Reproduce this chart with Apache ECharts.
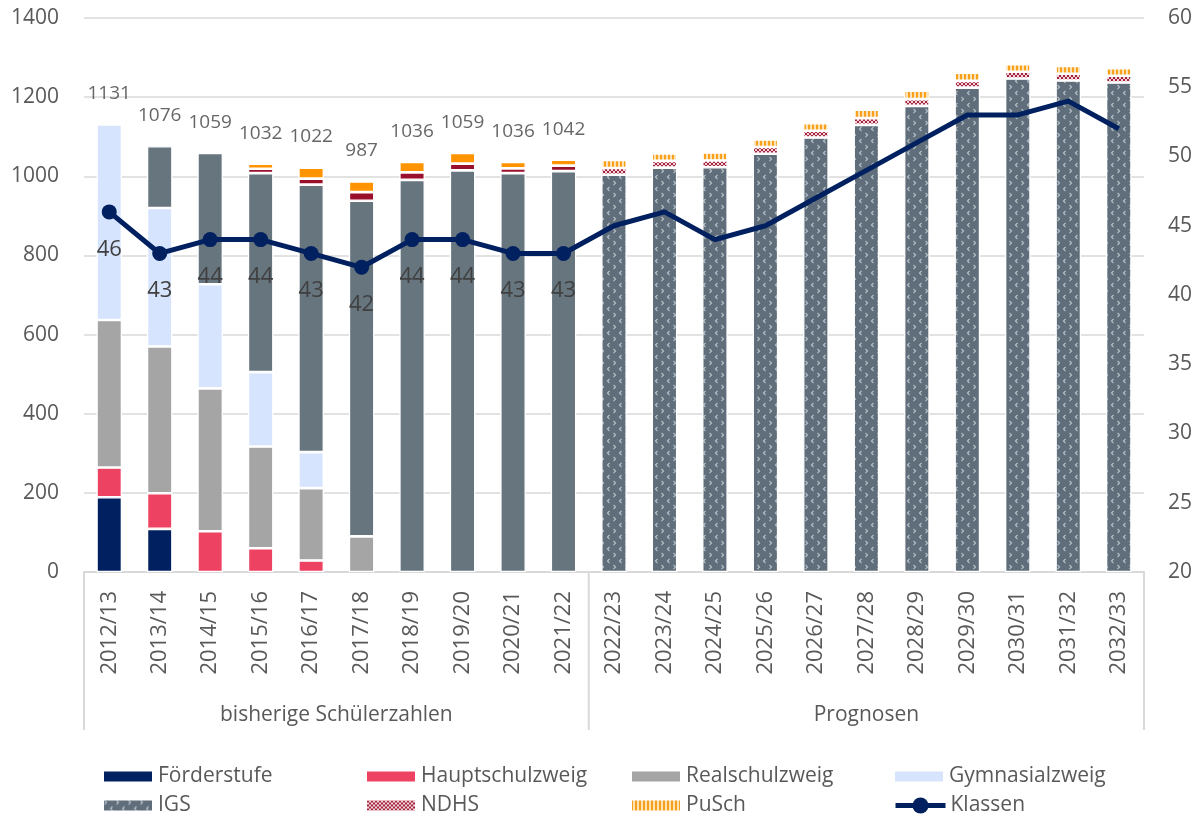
<!DOCTYPE html>
<html>
<head>
<meta charset="utf-8">
<script src="https://cdn.jsdelivr.net/npm/echarts@6/dist/echarts.min.js"></script>
<style>
  html, body { margin: 0; padding: 0; background: #fff; }
  #main { width: 1203px; height: 816px; }
</style>
</head>
<body>
<div id="main"></div>
<script>
// categories (school years)
const categories = ['2012/13', '2013/14', '2014/15', '2015/16', '2016/17', '2017/18', '2018/19', '2019/20', '2020/21', '2021/22',
  '2022/23', '2023/24', '2024/25', '2025/26', '2026/27', '2027/28', '2028/29', '2029/30', '2030/31', '2031/32', '2032/33'];
// first 10 years are actual numbers, the rest is the forecast
const historyCount = 10;
const groupLabels = ['bisherige Schülerzahlen', 'Prognosen'];

// pupils per branch
const foerderstufe = [189, 109, null, null, null, null, null, null, null, null, null, null, null, null, null, null, null, null, null, null, null];
const hauptschulzweig = [75, 90, 103, 60, 29, null, null, null, null, null, null, null, null, null, null, null, null, null, null, null, null];
const realschulzweig = [373, 371, 361, 257, 183, 90, null, null, null, null, null, null, null, null, null, null, null, null, null, null, null];
const gymnasialzweig = [494, 350, 263, 188, 91, null, null, null, null, null, null, null, null, null, null, null, null, null, null, null, null];
const igs = [null, 156, 332, 503, 676, 848, 991, 1015, 1008, 1013, 1004, 1022, 1023, 1057, 1098, 1130, 1178, 1224, 1247, 1242, 1237];
const ndhs = [null, null, null, 11, 15, 22, 19, 17, 12, 14, 17, 17, 17, 17, 17, 17, 17, 17, 17, 17, 17];
const pusch = [null, null, null, 13, 28, 27, 26, 27, 16, 15, 20, 19, 20, 19, 19, 21, 21, 21, 19, 20, 19];
// totals shown above the actual bars
const totals = [1131, 1076, 1059, 1032, 1022, 987, 1036, 1059, 1036, 1042];
// number of classes (right axis)
const klassen = [46, 43, 44, 44, 43, 42, 44, 44, 43, 43, 45, 46, 44, 45, 47, 49, 51, 53, 53, 54, 52];

// tick values
const leftTicks = { min: 0, max: 1400, interval: 200 };
const rightTicks = { min: 20, max: 60, interval: 5 };

const FONT = '"Open Sans", "Noto Sans", sans-serif';
const TEXT = '#595959';

//pattern fill helper
function makePattern(w, h, draw) {
  const c = document.createElement('canvas');
  c.width = w;
  c.height = h;
  draw(c.getContext('2d'));
  return { image: c, repeat: 'repeat' };
}

//IGS forecast: slate with small light chevrons
const igsPattern = makePattern(12, 12, ctx => {
  ctx.fillStyle = '#5f6e7a';
  ctx.fillRect(0, 0, 12, 12);
  ctx.strokeStyle = '#b4bec6';
  ctx.lineWidth = 1.2;
  ctx.beginPath();
  ctx.moveTo(1.5, 1); ctx.lineTo(3.5, 3); ctx.lineTo(1.5, 5);
  ctx.moveTo(9.5, 7); ctx.lineTo(7.5, 9); ctx.lineTo(9.5, 11);
  ctx.stroke();
});
//NDHS forecast: red cross hatch
const ndhsPattern = makePattern(4, 4, ctx => {
  ctx.fillStyle = '#f3d6dc';
  ctx.fillRect(0, 0, 4, 4);
  ctx.fillStyle = '#a3233f';
  [[0, 0], [1, 1], [2, 2], [3, 3], [3, 0], [2, 1], [1, 2], [0, 3]].forEach(p => ctx.fillRect(p[0], p[1], 1, 1));
});
//PuSch forecast: orange vertical stripes
const puschPattern = makePattern(4, 4, ctx => {
  ctx.fillStyle = '#fde2b8';
  ctx.fillRect(0, 0, 4, 4);
  ctx.fillStyle = '#f7a01c';
  ctx.fillRect(0, 0, 2, 4);
});

//bar series
function barSeries(name, data, color, solidColor) {
  return {
    name,
    type: 'bar',
    stack: 'total',
    barWidth: 25.5,
    itemStyle: { color, borderColor: '#fff', borderWidth: 1.3 },
    data: data.map((v, i) => {
      if (solidColor && i < historyCount) return { value: v, itemStyle: { color: solidColor } };
      return v;
    })
  };
}

const chart = echarts.init(document.getElementById('main'));

//one legend per entry, laid out as a 4x2 grid
const legendCols = [97, 360, 625, 888];
const legendRows = [761, 790];
const legendNames = [['Förderstufe', 'Hauptschulzweig', 'Realschulzweig', 'Gymnasialzweig'], ['IGS', 'NDHS', 'PuSch', 'Klassen']];
const legends = [];
legendNames.forEach((row, r) => {
  row.forEach((name, c) => {
    const isLine = name === 'Klassen';
    legends.push({
      left: legendCols[c],
      top: isLine ? legendRows[r] : legendRows[r],
      itemWidth: 50,
      itemHeight: isLine ? 20 : 12,
      lineStyle: { width: 'inherit' },
      textStyle: { fontSize: 21, color: TEXT, fontFamily: FONT, lineHeight: isLine ? 20 : 21 },
      data: [isLine ? { name } : { name, icon: 'rect' }]
    });
  });
});

const option = {
  animation: false,
  textStyle: { fontFamily: FONT },
  grid: { left: 84, right: 59, top: 18, bottom: 244 },
  legend: legends,
  xAxis: {
    type: 'category',
    data: categories,
    axisTick: { show: false },
    axisLine: { lineStyle: { color: '#d9d9d9', width: 2 } },
    axisLabel: { rotate: 90, margin: 19, fontSize: 22, color: TEXT, fontFamily: FONT }
  },
  yAxis: [
    {
      type: 'value',
      min: leftTicks.min,
      max: leftTicks.max,
      interval: leftTicks.interval,
      axisLabel: { fontSize: 21, color: TEXT, margin: 25, fontFamily: FONT, formatter: v => String(v) },
      splitLine: { lineStyle: { color: '#d9d9d9', width: 1.5 } }
    },
    {
      type: 'value',
      min: rightTicks.min,
      max: rightTicks.max,
      interval: rightTicks.interval,
      axisLabel: { fontSize: 21, color: TEXT, margin: 24, fontFamily: FONT, formatter: v => String(v) },
      splitLine: { show: false }
    }
  ],
  series: [
    barSeries('Förderstufe', foerderstufe, '#002060'),
    barSeries('Hauptschulzweig', hauptschulzweig, '#ee4263'),
    barSeries('Realschulzweig', realschulzweig, '#a5a5a5'),
    barSeries('Gymnasialzweig', gymnasialzweig, '#d6e5fd'),
    barSeries('IGS', igs, igsPattern, '#67757f'),
    barSeries('NDHS', ndhs, ndhsPattern, '#9a0f2b'),
    barSeries('PuSch', pusch, puschPattern, '#ff9300'),
    {
      name: 'Klassen',
      type: 'line',
      yAxisIndex: 1,
      symbol: 'circle',
      symbolSize: 15,
      z: 5,
      lineStyle: { color: '#002060', width: 5 },
      itemStyle: { color: '#002060' },
      label: { show: true, position: 'bottom', distance: 19, fontSize: 22, color: '#404040', fontFamily: FONT },
      data: klassen.map((v, i) => i < historyCount ? v : { value: v, symbol: 'none', label: { show: false } })
    },
    {
      //total labels only, no marks
      name: 'Summe',
      type: 'scatter',
      symbolSize: 0,
      z: 6,
      label: { show: true, position: 'top', distance: 21, fontSize: 19, color: '#404040', fontFamily: FONT },
      data: totals
    }
  ]
};

chart.setOption(option);

//group labels under the category axis
const px = i => chart.convertToPixel({ xAxisIndex: 0 }, categories[i]);
const step = px(1) - px(0);
const y0 = chart.convertToPixel({ yAxisIndex: 0 }, 0);
const edges = [px(0) - step / 2, px(historyCount - 1) + step / 2, px(categories.length - 1) + step / 2];

const graphic = edges.map(x => ({
  type: 'line',
  shape: { x1: x, y1: y0, x2: x, y2: 730 },
  style: { stroke: '#d9d9d9', lineWidth: 2 }
}));
groupLabels.forEach((t, i) => {
  graphic.push({
    type: 'text',
    x: (edges[i] + edges[i + 1]) / 2,
    y: 715,
    style: { text: t, fontSize: 21, fill: TEXT, fontFamily: FONT, align: 'center', verticalAlign: 'middle' }
  });
});
chart.setOption({ graphic });
</script>
</body>
</html>
